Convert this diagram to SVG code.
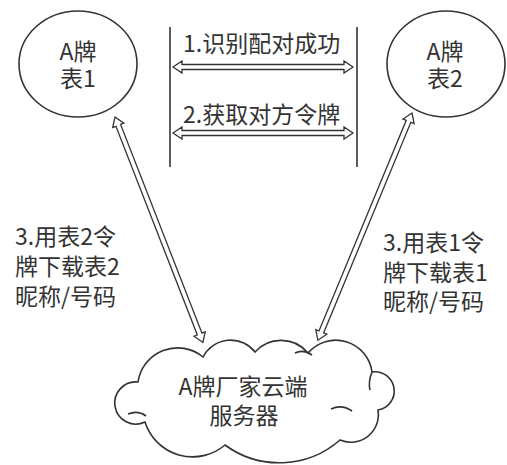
<svg xmlns="http://www.w3.org/2000/svg" width="507" height="465" viewBox="0 0 507 465">
<style>
.ln{fill:none;stroke:#333;stroke-width:1.6}
.ar{fill:#fff;stroke:#333;stroke-width:1.3;stroke-linejoin:miter}
.t{font-family:"Noto Sans CJK SC","Noto Sans",sans-serif;font-size:23px;fill:#333}
.c{text-anchor:middle}
</style>
<rect width="507" height="465" fill="#fff"/>
<g id="watch1">
<ellipse class="ln" cx="78" cy="64" rx="59" ry="53"/>
<text class="t c" x="78" y="60">A牌</text>
<text class="t c" x="78" y="87">表1</text>
</g>
<g id="watch2">
<ellipse class="ln" cx="446" cy="64" rx="59" ry="53"/>
<text class="t c" x="445" y="60">A牌</text>
<text class="t c" x="445" y="87">表2</text>
</g>
<g id="cloud">
<path class="ln" d="M138,382 A40,40 0 0 1 203,357 A31,31 0 0 1 255,352 A35,35 0 0 1 308,353 A36.5,36.5 0 0 1 372,372 A19,19 0 0 1 378,410 A27.6,27.6 0 0 1 340,440 A92,92 0 0 1 225,445 A50,50 0 0 1 145,422 A21.1,21.1 0 1 1 138,382 Z"/>
<path class="ln" d="M128,414 Q138,410 146,416 M331,409 Q342,404 352,411 M295,353 Q303,349 312,355 M372,372 Q368,382 370,390"/>
<text class="t c" x="243" y="395">A牌厂家云端</text>
<text class="t c" x="244" y="424">服务器</text>
</g>
<g id="connectors">
<line class="ln" x1="170" y1="27" x2="170" y2="167"/>
<line class="ln" x1="357" y1="27" x2="357" y2="167"/>
<path class="ar" transform="translate(173,67)" d="M0,0 L9,-6 L9,-2.5 L171,-2.5 L171,-6 L180,0 L171,6 L171,2.5 L9,2.5 L9,6 Z"/>
<path class="ar" transform="translate(173,133)" d="M0,0 L9,-6 L9,-2.5 L171,-2.5 L171,-6 L180,0 L171,6 L171,2.5 L9,2.5 L9,6 Z"/>
<path class="ar" transform="translate(115,117) rotate(68.7)" d="M0,0 L9,-6 L9,-2.5 L233,-2.5 L233,-6 L242,0 L233,6 L233,2.5 L9,2.5 L9,6 Z"/>
<path class="ar" transform="translate(412,113) rotate(112.5)" d="M0,0 L9,-6 L9,-2.5 L237,-2.5 L237,-6 L246,0 L237,6 L237,2.5 L9,2.5 L9,6 Z"/>
</g>
<g id="labels">
<text class="t" x="183" y="52">1.识别配对成功</text>
<text class="t" x="183" y="123">2.获取对方令牌</text>
<text class="t" x="15" y="245">3.用表2令</text>
<text class="t" x="15" y="275">牌下载表2</text>
<text class="t" x="15" y="305">昵称/号码</text>
<text class="t" x="383" y="251">3.用表1令</text>
<text class="t" x="383" y="281">牌下载表1</text>
<text class="t" x="383" y="310">昵称/号码</text>
</g>
</svg>
